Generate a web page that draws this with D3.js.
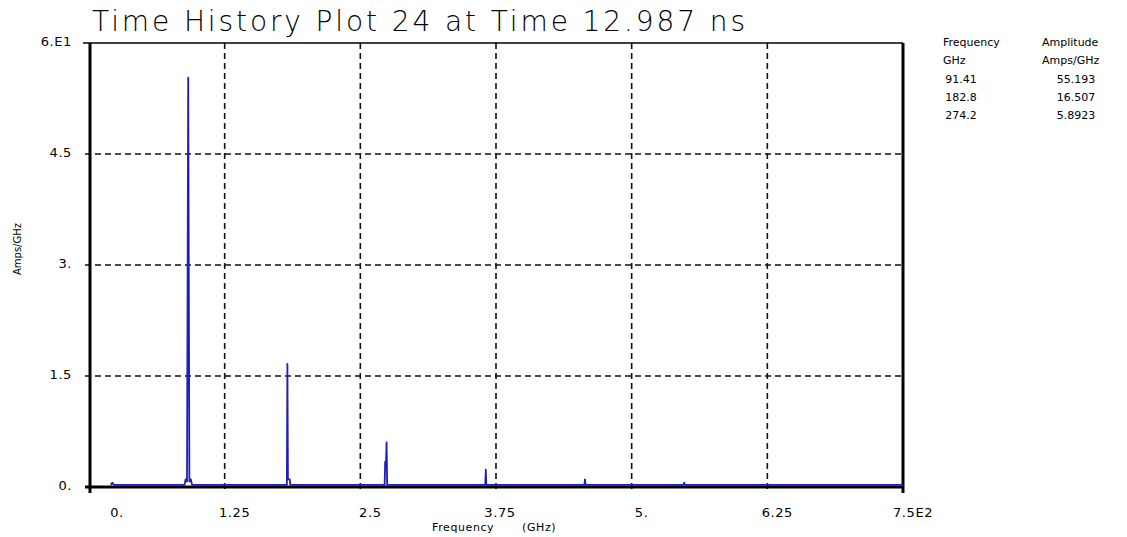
<!DOCTYPE html>
<html><head><meta charset="utf-8">
<script src="https://cdn.jsdelivr.net/npm/d3@7"></script>
<style>
html,body{margin:0;padding:0;background:#fff;}
text{font-family:"DejaVu Sans",sans-serif;fill:#000;}
</style></head>
<body>
<svg id="c" width="1127" height="537"></svg>
<script>
// ---- data ----
const titleText = "Time History Plot 24 at Time 12.987 ns";
const freqGHz = [20, 21.5, 23, 88.0, 89.0, 90.3, 91.41, 92.5, 93.8, 95.0, 182.3, 182.8, 183.3, 185.0, 185.5,
  272.4, 272.9, 273.7, 274.2, 274.7, 365.1, 365.6, 366.1, 456.5, 457.0, 457.5, 547.9, 548.4, 548.9, 750];
const ampAmpsPerGHz = [0.15, 0.45, 0.15, 0.15, 0.9, 0.6, 55.193, 0.6, 0.9, 0.15, 0.15, 16.507, 0.9, 0.9, 0.15,
  0.15, 3.3, 3.3, 5.8923, 0.15, 0.15, 2.2, 0.15, 0.15, 0.9, 0.15, 0.15, 0.45, 0.15, 0.15];
const xTickValues = [0, 125, 250, 375, 500, 625, 750];
const xTickLabels = ["0.", "1.25", "2.5", "3.75", "5.", "6.25", "7.5E2"];
const yTickValues = [0, 15, 30, 45, 60];
const yTickLabels = ["0.", "1.5", "3.", "4.5", "6.E1"];
const tableHeader = [["Frequency", "Amplitude"], ["GHz", "Amps/GHz"]];
const tableFreq = ["91.41", "182.8", "274.2"];
const tableAmp = ["55.193", "16.507", "5.8923"];

// ---- chart ----
const svg = d3.select("#c");
const L = 89, R = 903, T = 43, B = 487;
const x = d3.scaleLinear().domain([0, 750]).range([L, R]);
const y = d3.scaleLinear().domain([0, 60]).range([B, T]);

// grid (dashed)
const grid = svg.append("g").attr("stroke", "#111").attr("stroke-width", 1.6).attr("stroke-dasharray", "6,4");
xTickValues.slice(1, -1).forEach(v => {
  grid.append("line").attr("x1", x(v)).attr("x2", x(v)).attr("y1", T).attr("y2", B + 6);
});
yTickValues.slice(1, -1).forEach(v => {
  grid.append("line").attr("x1", L - 4).attr("x2", R).attr("y1", y(v)).attr("y2", y(v));
});

// frame
svg.append("line").attr("x1", L - 6).attr("x2", R).attr("y1", T).attr("y2", T).attr("stroke", "#000").attr("stroke-width", 1.5);
svg.append("line").attr("x1", L + 1).attr("x2", L + 1).attr("y1", T).attr("y2", B + 6).attr("stroke", "#000").attr("stroke-width", 3);
svg.append("line").attr("x1", R).attr("x2", R).attr("y1", T).attr("y2", B + 6).attr("stroke", "#000").attr("stroke-width", 3);
svg.append("line").attr("x1", L - 4).attr("x2", R).attr("y1", B).attr("y2", B).attr("stroke", "#000").attr("stroke-width", 3);

// data line
const pts = freqGHz.map((f, i) => [f, ampAmpsPerGHz[i]]);
svg.append("path").datum(pts)
  .attr("fill", "none").attr("stroke", "#1f1fb8").attr("stroke-width", 1.8).attr("stroke-linejoin", "round")
  .attr("d", d3.line().x(d => x(d[0])).y(d => y(d[1]) - 1));

// x tick labels
const tickFont = 13;
svg.append("g").selectAll("text").data(xTickValues).join("text")
  .attr("x", (d, i) => x(d) + (i === 0 ? 28 : (i === 3 ? 4 : 10)))
  .attr("y", 517).attr("text-anchor", "middle")
  .attr("font-size", tickFont).attr("letter-spacing", 0.6)
  .text((d, i) => xTickLabels[i]);

// y tick labels
svg.append("g").selectAll("text").data(yTickValues).join("text")
  .attr("x", 72).attr("y", d => y(d) + 3).attr("text-anchor", "end")
  .attr("font-size", tickFont).attr("letter-spacing", 0.6)
  .text((d, i) => yTickLabels[i]);

// title
svg.append("text").attr("x", 92).attr("y", 31).attr("font-size", 28).attr("font-weight", 300)
  .attr("textLength", 653).attr("lengthAdjust", "spacing").text(titleText);

// axis titles
svg.append("text").attr("x", 432).attr("y", 531).attr("font-size", 11).attr("letter-spacing", 0.6).text("Frequency");
svg.append("text").attr("x", 522).attr("y", 531).attr("font-size", 11).attr("letter-spacing", 0.6).text("(GHz)");
svg.append("text").attr("transform", "translate(21,249) rotate(-90)").attr("text-anchor", "middle")
  .attr("font-size", 10).text("Amps/GHz");

// table
const tbl = svg.append("g").attr("font-size", 11);
const rowY0 = 46, rowStep = 18.3;
tableHeader.forEach((row, r) => {
  tbl.append("text").attr("x", 943).attr("y", rowY0 + r * rowStep).text(row[0]);
  tbl.append("text").attr("x", 1042).attr("y", rowY0 + r * rowStep).text(row[1]);
});
tableFreq.forEach((t, r) => {
  tbl.append("text").attr("x", 961).attr("y", rowY0 + (r + 2) * rowStep).attr("text-anchor", "middle").text(t);
  tbl.append("text").attr("x", 1076).attr("y", rowY0 + (r + 2) * rowStep).attr("text-anchor", "middle").text(tableAmp[r]);
});
</script>
</body></html>
